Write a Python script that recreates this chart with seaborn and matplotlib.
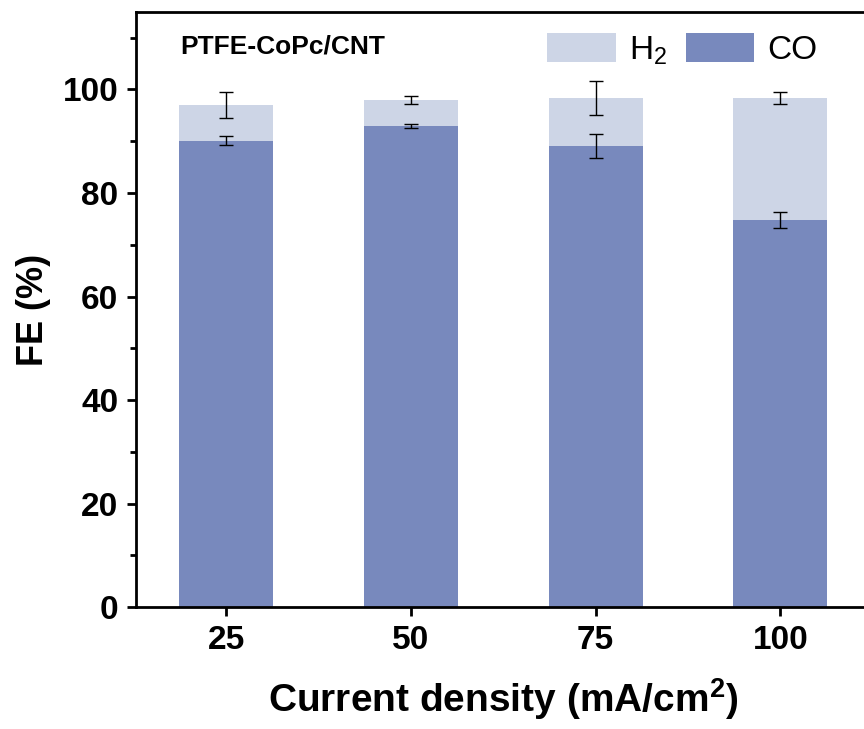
import matplotlib
matplotlib.use("Agg")
import matplotlib.pyplot as plt
import numpy as np
import pandas as pd
import seaborn as sns

# current density (mA/cm2)
density = ["25", "50", "75", "100"]
fe_co = [90.1, 92.9, 89.1, 74.8]
fe_h2 = [6.8, 5.0, 9.2, 23.5]
err_co = [0.9, 0.4, 2.3, 1.6]
err_total = [2.5, 0.8, 3.3, 1.1]

df = pd.DataFrame({"density": density, "CO": fe_co, "H2": fe_h2})
df["total"] = df["CO"] + df["H2"]

sns.set_style("ticks")
plt.rcParams["font.family"] = ["Liberation Sans", "DejaVu Sans"]
plt.rcParams["mathtext.fontset"] = "custom"
plt.rcParams["mathtext.rm"] = "Liberation Sans"
plt.rcParams["mathtext.bf"] = "Liberation Sans:bold"
plt.rcParams["text.color"] = "black"
plt.rcParams["axes.labelcolor"] = "black"
plt.rcParams["xtick.color"] = "black"
plt.rcParams["ytick.color"] = "black"

c_co = "#7889bd"
c_h2 = "#cdd5e6"

fig = plt.figure(figsize=(8.64, 7.29), dpi=100)
ax = fig.add_axes([0.157, 0.167, 0.851, 0.817])

sns.barplot(data=df, x="density", y="total", order=density, color=c_h2,
            width=0.51, saturation=1, linewidth=0, label="H$_2$", ax=ax)
sns.barplot(data=df, x="density", y="CO", order=density, color=c_co,
            width=0.51, saturation=1, linewidth=0, label="CO", ax=ax)

xpos = np.arange(len(density))
ax.errorbar(xpos, df["total"], yerr=err_total, fmt="none", ecolor="black",
            elinewidth=1, capsize=5, capthick=1)
ax.errorbar(xpos, df["CO"], yerr=err_co, fmt="none", ecolor="black",
            elinewidth=1, capsize=5, capthick=1)

ax.set_xlim(-0.49, 3.49)
ax.set_ylim(0, 115)
ax.set_yticks(np.arange(0, 101, 20))
ax.set_yticks(np.arange(10, 115, 20), minor=True)

for s in ax.spines.values():
    s.set_visible(True)
    s.set_linewidth(2)
    s.set_color("black")

ax.tick_params(axis="both", which="major", direction="out", length=6.5,
               width=2, labelsize=24, pad=6)
ax.tick_params(axis="y", which="minor", direction="out", length=4, width=2)
for lab in ax.get_xticklabels() + ax.get_yticklabels():
    lab.set_fontweight("bold")

ax.set_xlabel("Current density (mA/cm$^\\mathbf{2}$)", fontsize=28,
              fontweight="bold", labelpad=15)
ax.set_ylabel("FE (%)", fontsize=26, fontweight="bold", labelpad=8)

ax.text(0.061, 0.941, "PTFE-CoPc/CNT", transform=ax.transAxes,
        fontsize=19, fontweight="bold", va="center", ha="left")

ax.legend(loc="upper left", bbox_to_anchor=(0.56, 0.965), ncol=2,
          frameon=False, fontsize=24, handlelength=2.05, handleheight=1.0,
          handletextpad=0.4, columnspacing=0.55, borderpad=0, borderaxespad=0)

fig.savefig("out.png", dpi=100)
